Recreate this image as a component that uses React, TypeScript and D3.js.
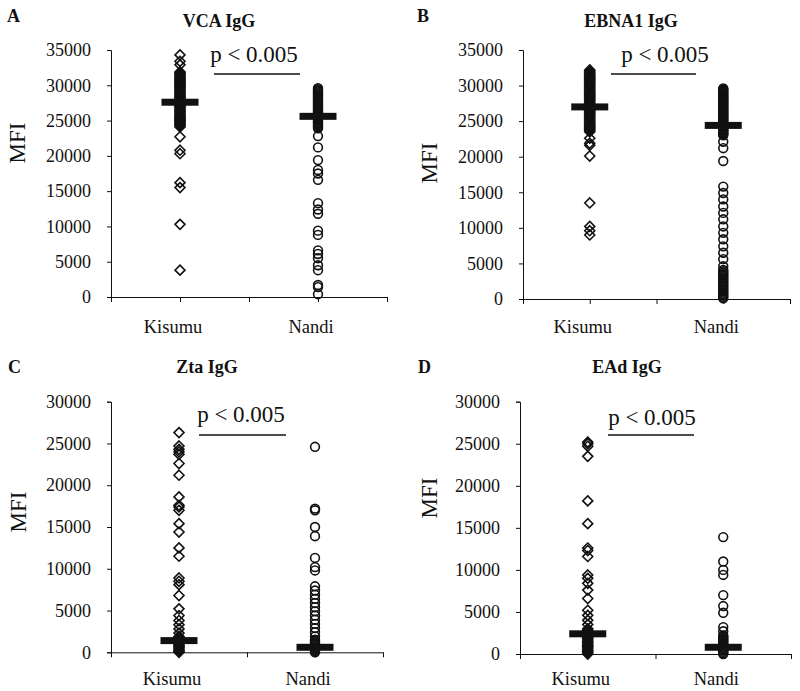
import React, { useEffect, useRef } from "react";
import * as d3 from "d3";

// ---------- data ----------
const categories = ["Kisumu", "Nandi"];
const categoryPos = [1, 3];
const pLabel = "p < 0.005";

const ticks35 = [0, 5000, 10000, 15000, 20000, 25000, 30000, 35000];
const ticks30 = [0, 5000, 10000, 15000, 20000, 25000, 30000];

// A: VCA IgG
const vcaKisumu = [
  34300, 33400, 32900,
  31900, 31750, 31600, 31450, 31300, 31150, 31000, 30850, 30700, 30550, 30400, 30250,
  30100, 29950, 29800, 29650, 29500, 29350, 29200, 29050, 28900, 28750, 28600, 28450,
  28300, 28150, 28000, 27850, 27700, 27550, 27400, 27250, 27100, 26950, 26800, 26650,
  26500, 26350, 26200, 26050, 25900, 25750, 25600, 25450, 25300, 25150, 25000, 24850,
  24700, 24550, 24400, 24250, 24100,
  22700, 20800, 20300, 16200, 15500, 10300, 3800,
];
const vcaNandi = [
  29600, 29450, 29300, 29150, 29000, 28850, 28700, 28550, 28400, 28250, 28100, 27950,
  27800, 27650, 27500, 27350, 27200, 27050, 26900, 26750, 26600, 26450, 26300, 26150,
  26000, 25850, 25700, 25550, 25400, 25250, 25100, 24950, 24800, 24650, 24500, 24350,
  24200, 24050, 23900,
  22800, 21200, 19400, 18000, 17500, 16600, 13300, 12400, 11800, 9400, 8800, 6600,
  6100, 5500, 4500, 3800, 1700, 1400, 400,
];
const vcaMeans = [27600, 25600];

// B: EBNA1 IgG
const ebnaKisumu = [
  32200, 32050, 31900, 31750, 31600, 31450, 31300, 31150, 31000, 30850, 30700, 30550,
  30400, 30250, 30100, 29950, 29800, 29650, 29500, 29350, 29200, 29050, 28900, 28750,
  28600, 28450, 28300, 28150, 28000, 27850, 27700, 27550, 27400, 27250, 27100, 26950,
  26800, 26650, 26500, 26350, 26200, 26050, 25900, 25750, 25600, 25450, 25300, 25150,
  25000, 24850, 24700, 24550, 24400, 24250, 24100, 23950, 23800, 23650, 23500,
  22600, 21900, 21600, 20100, 13500, 10200, 9600, 9000,
];
const ebnaNandi = [
  29600, 29450, 29300, 29150, 29000, 28850, 28700, 28550, 28400, 28250, 28100, 27950,
  27800, 27650, 27500, 27350, 27200, 27050, 26900, 26750, 26600, 26450, 26300, 26150,
  26000, 25850, 25700, 25550, 25400, 25250, 25100, 24950, 24800, 24650, 24500, 24350,
  24200, 24050, 23900, 23750, 23600, 23450, 23300, 23150, 23000,
  22100, 21200, 19400,
  15800, 14900, 14000, 13000, 12100, 11200, 10200, 9300, 8400, 7400, 6500, 5600, 4600,
  4100, 3900, 3700, 3500, 3300, 3100, 2900, 2700, 2500, 2300, 2100, 1900, 1700, 1500,
  1300, 1100, 900, 700, 500, 300, 100,
];
const ebnaMeans = [27000, 24400];

// C: Zta IgG
const ztaKisumu = [
  26300, 24700, 24300, 24000, 23700, 22600, 21200, 18600, 17600, 17400, 17000, 15400,
  14400, 12500, 11500, 8900, 8500, 8100, 6800, 5200, 4400, 3800, 3300, 2800, 2300,
  1900, 1750, 1600, 1450, 1300, 1150, 1000, 850, 700, 550, 400, 250, 100, 0,
];
const ztaNandi = [
  24600, 17200, 17000, 15000, 13900, 11300, 10200, 9800, 7900, 7400, 6900, 6400, 5900,
  5400, 4900, 4400, 3900, 3400, 2900, 2400, 1900, 1500, 1350, 1200, 1050, 900, 750,
  600, 450, 300, 150, 0,
];
const ztaMeans = [1400, 600];

// D: EAd IgG
const eadKisumu = [
  25200, 25000, 24700, 23500, 18200, 15500, 12600, 12300, 11600, 9400, 9000, 8400,
  7600, 6600, 5200, 4600, 4000, 3500, 3000, 2850, 2700, 2550, 2400, 2250, 2100, 1950,
  1800, 1650, 1500, 1350, 1200, 1050, 900, 750, 600, 450, 300, 150, 0,
];
const eadNandi = [
  13900, 11000, 10000, 9400, 7000, 5700, 4900, 3200, 2700, 2200, 2050, 1900, 1750,
  1600, 1450, 1300, 1150, 1000, 850, 700, 550, 400, 250, 100, 0,
];
const eadMeans = [2400, 800];

// ---------- layout ----------
const panels = [
  {
    letter: "A", title: "VCA IgG", yMax: 35000, ticks: ticks35,
    left: 111, right: 387, top: 50, bottom: 297,
    letterX: 7, letterY: 22, titleX: 219, titleY: 27, mfiX: 17, mfiY: 143,
    pX: 254, pY: 62, lineY: 74, lineX1: 214, lineX2: 300, labelY: 333,
    kisumu: vcaKisumu, nandi: vcaNandi, means: vcaMeans,
  },
  {
    letter: "B", title: "EBNA1 IgG", yMax: 35000, ticks: ticks35,
    left: 523, right: 790, top: 50, bottom: 299,
    letterX: 417, letterY: 22, titleX: 631, titleY: 27, mfiX: 429, mfiY: 163,
    pX: 665, pY: 62, lineY: 74, lineX1: 611, lineX2: 696, labelY: 333,
    kisumu: ebnaKisumu, nandi: ebnaNandi, means: ebnaMeans,
  },
  {
    letter: "C", title: "Zta IgG", yMax: 30000, ticks: ticks30,
    left: 111, right: 383, top: 401.7, bottom: 652.3,
    letterX: 8, letterY: 373, titleX: 207, titleY: 373, mfiX: 18, mfiY: 512,
    pX: 241, pY: 422, lineY: 435, lineX1: 199, lineX2: 286, labelY: 685,
    kisumu: ztaKisumu, nandi: ztaNandi, means: ztaMeans,
  },
  {
    letter: "D", title: "EAd IgG", yMax: 30000, ticks: ticks30,
    left: 520, right: 791, top: 401.7, bottom: 654,
    letterX: 418, letterY: 373, titleX: 627, titleY: 373, mfiX: 429, mfiY: 498,
    pX: 652, pY: 425, lineY: 435, lineX1: 608, lineX2: 694, labelY: 685,
    kisumu: eadKisumu, nandi: eadNandi, means: eadMeans,
  },
];

const FONT = "'Liberation Serif', 'Times New Roman', serif";
const INK = "#111";

export default function App() {
  const ref = useRef<SVGSVGElement | null>(null);

  useEffect(() => {
    const svg = d3.select(ref.current);
    svg.selectAll("*").remove();

    panels.forEach((p) => {
      const g = svg.append("g");
      const x = d3.scaleLinear().domain([0, 4]).range([p.left, p.right]);
      const y = d3.scaleLinear().domain([0, p.yMax]).range([p.bottom, p.top]);

      // Y axis
      const yAxis = d3
        .axisLeft(y)
        .tickValues(p.ticks)
        .tickSize(4)
        .tickPadding(16)
        .tickFormat(d3.format("d") as any);
      const yg = g.append("g").attr("transform", `translate(${p.left},0)`).call(yAxis);
      yg.select(".domain").attr("stroke", INK).attr("stroke-width", 1);
      yg.selectAll(".tick line").attr("stroke", INK);
      yg.selectAll(".tick text")
        .attr("font-family", FONT)
        .attr("font-size", 18)
        .attr("fill", INK);
      yg.attr("font-family", null).attr("font-size", null);

      // X axis
      const xAxis = d3
        .axisBottom(x)
        .tickValues([0, 1, 2, 3, 4])
        .tickSizeInner(5)
        .tickSizeOuter(0)
        .tickFormat(() => "");
      const xg = g.append("g").attr("transform", `translate(0,${p.bottom})`).call(xAxis);
      xg.select(".domain").attr("stroke", INK).attr("stroke-width", 1);
      xg.selectAll(".tick line").attr("stroke", INK);

      // category labels
      categories.forEach((c, i) => {
        g.append("text")
          .attr("x", x(categoryPos[i]) - 7)
          .attr("y", p.labelY)
          .attr("text-anchor", "middle")
          .attr("font-family", FONT)
          .attr("font-size", 18.5)
          .attr("fill", INK)
          .text(c);
      });

      // markers
      const diamond = "M0,-5L5,0L0,5L-5,0Z";
      g.append("g")
        .selectAll("path")
        .data(p.kisumu)
        .join("path")
        .attr("d", diamond)
        .attr("transform", (d) => `translate(${x(categoryPos[0])},${y(d)})`)
        .attr("fill", "none")
        .attr("stroke", INK)
        .attr("stroke-width", 1.6);
      g.append("g")
        .selectAll("circle")
        .data(p.nandi)
        .join("circle")
        .attr("cx", x(categoryPos[1]))
        .attr("cy", (d) => y(d))
        .attr("r", 4.4)
        .attr("fill", "none")
        .attr("stroke", INK)
        .attr("stroke-width", 1.6);

      // means
      g.append("g")
        .selectAll("rect")
        .data(p.means)
        .join("rect")
        .attr("x", (_d, i) => x(categoryPos[i]) - 18.5)
        .attr("y", (d) => y(d) - 3.5)
        .attr("width", 37)
        .attr("height", 7)
        .attr("fill", INK);

      // p-value
      g.append("text")
        .attr("x", p.pX)
        .attr("y", p.pY)
        .attr("text-anchor", "middle")
        .attr("font-family", FONT)
        .attr("font-size", 23)
        .attr("fill", INK)
        .text(pLabel);
      g.append("line")
        .attr("x1", p.lineX1)
        .attr("x2", p.lineX2)
        .attr("y1", p.lineY)
        .attr("y2", p.lineY)
        .attr("stroke", INK)
        .attr("stroke-width", 1.3);

      // panel letter & title
      g.append("text")
        .attr("x", p.letterX)
        .attr("y", p.letterY)
        .attr("font-family", FONT)
        .attr("font-weight", "bold")
        .attr("font-size", 18)
        .attr("fill", INK)
        .text(p.letter);
      g.append("text")
        .attr("x", p.titleX)
        .attr("y", p.titleY)
        .attr("text-anchor", "middle")
        .attr("font-family", FONT)
        .attr("font-weight", "bold")
        .attr("font-size", 18)
        .attr("fill", INK)
        .text(p.title);

      // y label
      g.append("text")
        .attr("transform", `translate(${p.mfiX},${p.mfiY}) rotate(-90)`)
        .attr("text-anchor", "middle")
        .attr("dominant-baseline", "central")
        .attr("font-family", FONT)
        .attr("font-size", 23)
        .attr("fill", INK)
        .text("MFI");
    });
  }, []);

  return (
    <svg
      ref={ref}
      width={800}
      height={691}
      style={{ position: "absolute", left: 0, top: 0, background: "#fff" }}
    />
  );
}
